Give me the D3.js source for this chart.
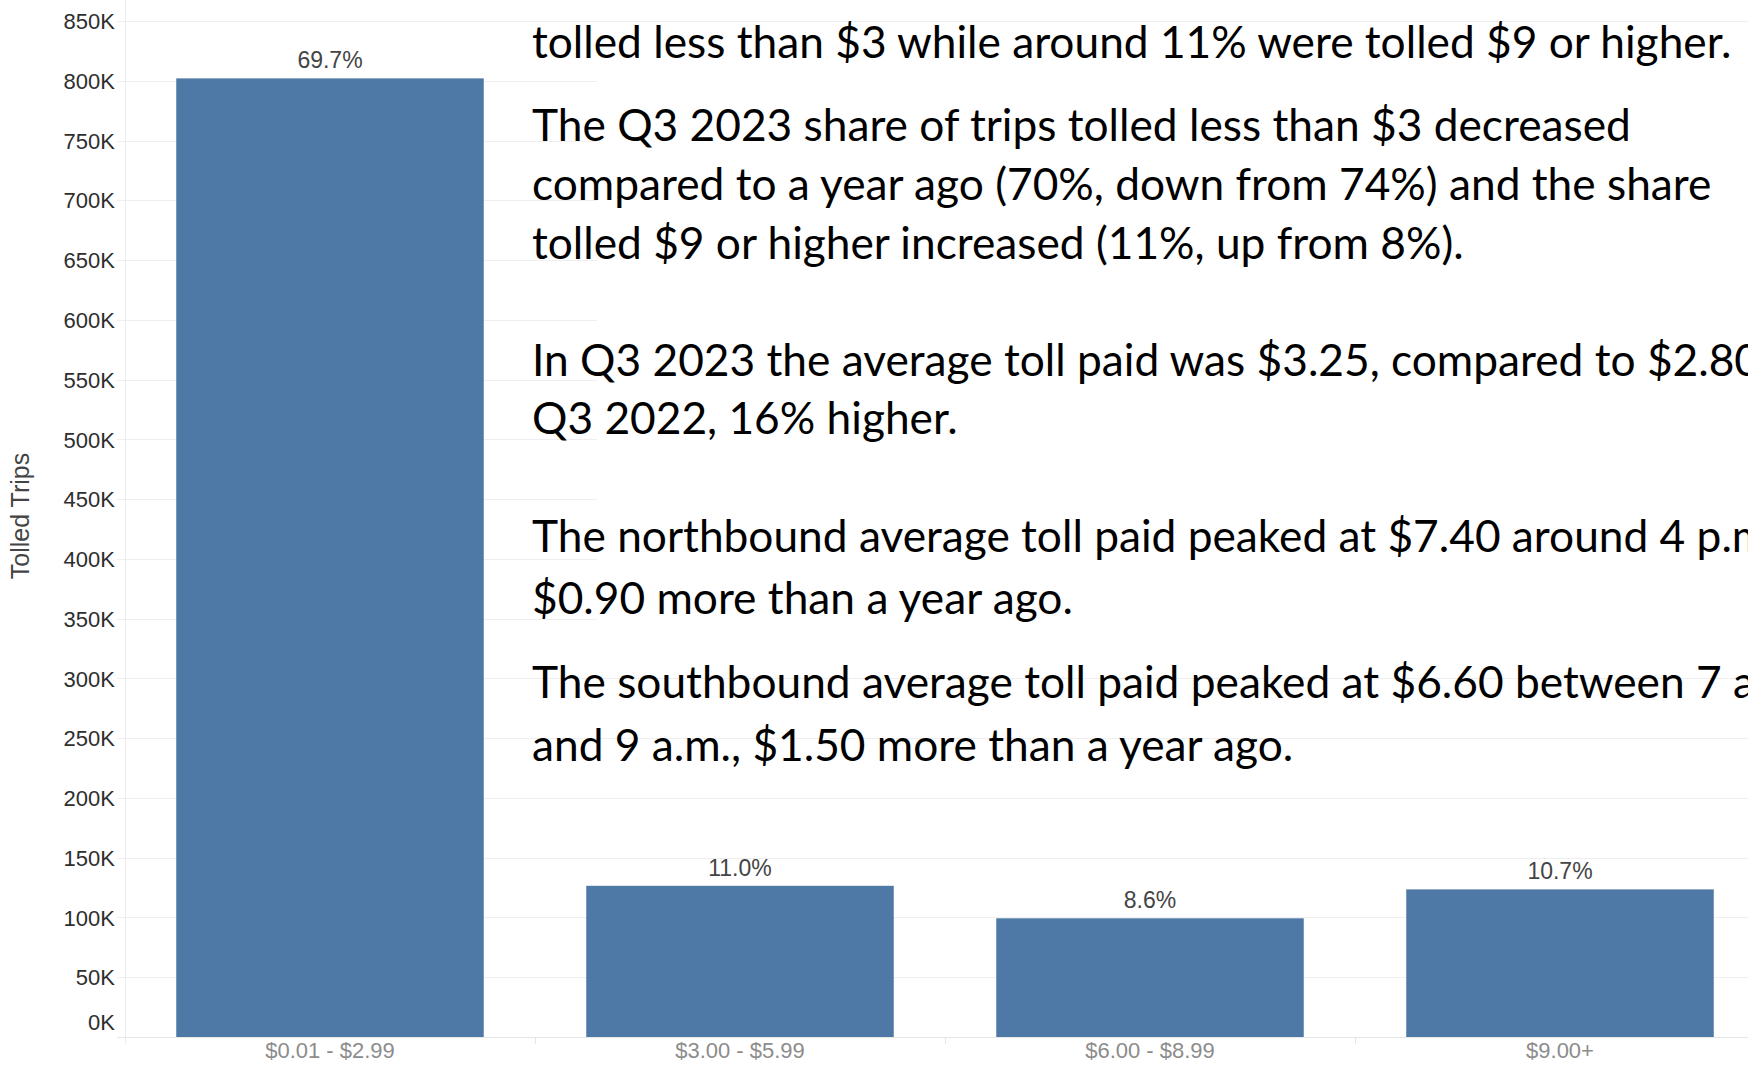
<!DOCTYPE html>
<html>
<head>
<meta charset="utf-8">
<script src="https://cdn.jsdelivr.net/npm/d3@7"></script>
<style>
  html, body { margin: 0; padding: 0; background: #fff; overflow: hidden; }
  svg { display: block; }
</style>
</head>
<body>
<svg id="chart"></svg>
<script>
// data
const categories = ["$0.01 - $2.99", "$3.00 - $5.99", "$6.00 - $8.99", "$9.00+"];
const tolledTrips = [802000, 126500, 99300, 123500];
const yTickValues = [0, 50000, 100000, 150000, 200000, 250000, 300000, 350000, 400000,
                     450000, 500000, 550000, 600000, 650000, 700000, 750000, 800000, 850000];
const yTitle = "Tolled Trips";

// note text beside the chart (first line is cut off by the top of the frame)
const noteLines = [
  "In Q3 2023, a majority of trips (around 70%) were",
  "tolled less than $3 while around 11% were tolled $9 or higher.",
  "The Q3 2023 share of trips tolled less than $3 decreased",
  "compared to a year ago (70%, down from 74%) and the share",
  "tolled $9 or higher increased (11%, up from 8%).",
  "In Q3 2023 the average toll paid was $3.25, compared to $2.80 in",
  "Q3 2022, 16% higher.",
  "The northbound average toll paid peaked at $7.40 around 4 p.m.,",
  "$0.90 more than a year ago.",
  "The southbound average toll paid peaked at $6.60 between 7 a.m.",
  "and 9 a.m., $1.50 more than a year ago."
];

// layout
let svgWidth = 1748;
let svgHeight = 1065;
let axisX = 125;
let step = 410;
let noteBaselines = [-8, 58, 141, 200, 259, 376, 434, 552, 614, 698, 761];
let axisFont = "'Liberation Sans', Arial, sans-serif";
let axisSize = 22;

let svg = d3.select("#chart")
    .attr("width", svgWidth)
    .attr("height", svgHeight);

let x = d3.scaleBand()
    .domain(categories)
    .range([axisX, axisX + step * categories.length])
    .paddingInner(0.25)
    .paddingOuter(0.125);

let y = d3.scaleLinear()
    .domain([0, 850000])
    .range([1037, 21]);

// gridlines
svg.append("g")
    .selectAll("line")
    .data(yTickValues)
    .enter()
    .append("line")
    .attr("x1", axisX - 8)
    .attr("x2", svgWidth)
    .attr("y1", d => Math.round(y(d)) + 0.5)
    .attr("y2", d => Math.round(y(d)) + 0.5)
    .attr("stroke", d => d === 0 ? "#e6e6e6" : "#efefef")
    .attr("stroke-width", 1);

// vertical axis line
svg.append("line")
    .attr("x1", axisX + 0.5).attr("x2", axisX + 0.5)
    .attr("y1", 0).attr("y2", 1044)
    .attr("stroke", "#ececec");

// category separators under the baseline
svg.append("g")
    .selectAll("line")
    .data(d3.range(1, categories.length + 1))
    .enter()
    .append("line")
    .attr("x1", i => axisX + step * i + 0.5)
    .attr("x2", i => axisX + step * i + 0.5)
    .attr("y1", 1037)
    .attr("y2", 1044)
    .attr("stroke", "#e6e6e6");

// y axis labels
let yAxis = d3.axisLeft(y)
    .tickValues(yTickValues)
    .tickSize(0)
    .tickPadding(10)
    .tickFormat(d => (d / 1000) + "K");

let yAxisG = svg.append("g")
    .attr("transform", "translate(" + axisX + ",0)")
    .call(yAxis);
yAxisG.select(".domain").remove();
yAxisG.selectAll("text")
    .attr("font-family", axisFont)
    .attr("font-size", axisSize)
    .attr("fill", "#2e2e2e")
    .attr("dy", d => d === 0 ? "-0.35em" : "0.35em");

// y axis title
svg.append("text")
    .attr("transform", "translate(29,516) rotate(-90)")
    .attr("text-anchor", "middle")
    .attr("font-family", axisFont)
    .attr("font-size", 25)
    .attr("fill", "#444")
    .text(yTitle);

// x axis labels
let xAxis = d3.axisBottom(x).tickSize(0).tickPadding(0);
let xAxisG = svg.append("g")
    .attr("transform", "translate(0,1043)")
    .call(xAxis);
xAxisG.select(".domain").remove();
xAxisG.selectAll("text")
    .attr("font-family", axisFont)
    .attr("font-size", axisSize)
    .attr("fill", "#8c8c8c")
    .attr("dy", "0.7em");

// bars
svg.append("g")
    .selectAll("rect")
    .data(tolledTrips)
    .enter()
    .append("rect")
    .attr("x", (d, i) => x(categories[i]))
    .attr("y", d => y(d))
    .attr("width", x.bandwidth())
    .attr("height", d => y(0) - y(d))
    .attr("fill", "#4e79a7");

// share labels on top of bars
let total = d3.sum(tolledTrips);
svg.append("g")
    .selectAll("text")
    .data(tolledTrips)
    .enter()
    .append("text")
    .attr("x", (d, i) => x(categories[i]) + x.bandwidth() / 2)
    .attr("y", d => y(d) - 10)
    .attr("text-anchor", "middle")
    .attr("font-family", axisFont)
    .attr("font-size", 23)
    .attr("fill", "#444")
    .text(d => d3.format(".1%")(d / total));

// white text box over the upper right of the plot
svg.append("rect")
    .attr("x", 597)
    .attr("y", 24)
    .attr("width", svgWidth - 597)
    .attr("height", 626)
    .attr("fill", "#fff");

let noteG = svg.append("g").attr("font-family", "Lato, Carlito, sans-serif").attr("fill", "#000");

// size the note font so the widest visible line spans about 1200px like the picture
let probe = noteG.append("text").attr("font-size", 40).text(noteLines[1]);
let probeWidth = probe.node().getComputedTextLength();
probe.remove();
let noteSize = 40 * 1200 / probeWidth;

noteG.selectAll("text")
    .data(noteLines)
    .enter()
    .append("text")
    .attr("x", 532)
    .attr("y", (d, i) => noteBaselines[i])
    .attr("font-size", noteSize)
    .text(d => d);
</script>
</body>
</html>
